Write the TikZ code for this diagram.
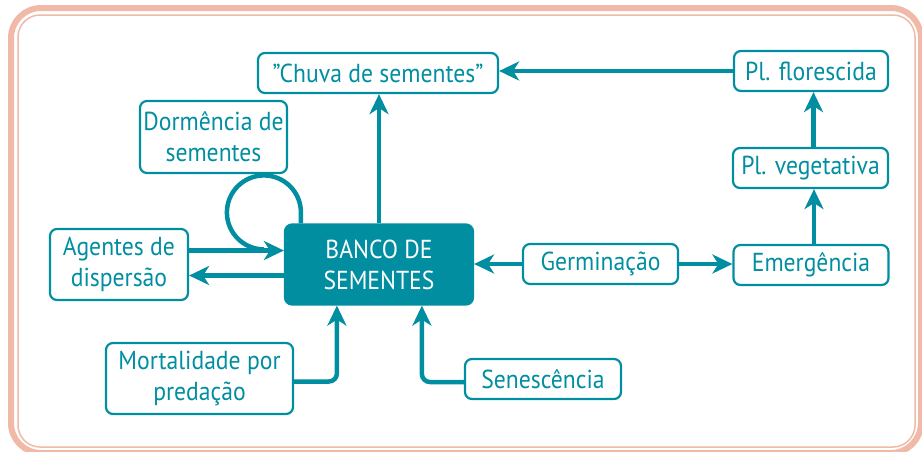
\documentclass[tikz,border=0pt]{standalone}
\usepackage{fontspec}
\setmainfont{PT Sans}[FakeStretch=0.91]
\usetikzlibrary{arrows.meta,calc}
\definecolor{tealc}{RGB}{0,142,160}
\definecolor{pinkf}{RGB}{240,185,168}
\begin{document}
\begin{tikzpicture}[x=1pt,y=-1pt,
  box/.style={draw=tealc, line width=2.2pt, rounded corners=7pt, text=tealc,
    font=\fontsize{26}{31}\selectfont, align=center, inner sep=0pt},
  bigbox/.style={box, fill=tealc, text=white},
  arr/.style={draw=tealc, line width=4.5pt, -{Stealth[length=20pt,width=19pt,inset=6pt]}},
  plain/.style={draw=tealc, line width=4.5pt},
  frameout/.style={draw=pinkf, line width=6pt, rounded corners=30pt},
  framein/.style={draw=pinkf, line width=1.5pt, rounded corners=22pt}]
\useasboundingbox (0,0) rectangle (922,451);
\draw[frameout] (11,8) rectangle (921,453);
\draw[framein] (18,15) rectangle (915,447);

\node[box, minimum width=240pt, minimum height=40pt] (chuva) at (378,73) {”Chuva de sementes”};
\node[box, minimum width=147pt, minimum height=72pt] (dorm) at (213.5,137) {Dormência de\\sementes};
\node[box, minimum width=138pt, minimum height=71pt] (agentes) at (119,264.5) {Agentes de\\dispersão};
\node[bigbox, minimum width=188pt, minimum height=80pt] (banco) at (379,264.5) {BANCO DE\\SEMENTES};
\node[box, minimum width=187pt, minimum height=71pt] (mort) at (199.5,378.5) {Mortalidade por\\predação};
\node[box, minimum width=156pt, minimum height=40pt] (sen) at (543,379) {Senescência};
\node[box, minimum width=155pt, minimum height=40pt] (germ) at (600.5,264) {Germinação};
\node[box, minimum width=155pt, minimum height=40pt] (emerg) at (811,265) {Emergência};
\node[box, minimum width=155pt, minimum height=40pt] (veg) at (810.5,168) {Pl. vegetativa};
\node[box, minimum width=154pt, minimum height=40pt] (flor) at (811,71) {Pl. florescida};

\coordinate (loopstart) at ([xshift=17pt]banco.north west);
\draw[plain] (loopstart) -- ++(0,-11) arc[start angle=0, end angle=-270, radius=37];
\draw[arr] ([yshift=14pt]agentes.east) -- ([yshift=14pt]agentes.east -| banco.west);
\draw[arr] ([yshift=-11pt]banco.west) -- ([yshift=-11pt]banco.west -| agentes.east);
\draw[arr] (banco.north) -- (banco.north |- chuva.south);
\draw[arr] (flor.west) -- (flor.west -| chuva.east);
\draw[arr] ([xshift=3pt]emerg.north) -- ([xshift=3pt]emerg.north |- veg.south);
\draw[arr] ([xshift=3pt]veg.north) -- ([xshift=3pt]veg.north |- flor.south);
\draw[arr] (germ.west) -- (germ.west -| banco.east);
\draw[arr] (germ.east) -- (germ.east -| emerg.west);
\draw[arr, rounded corners=8pt] ([yshift=-3pt]mort.east) -| ([xshift=53pt]banco.south west);
\draw[arr, rounded corners=8pt] ([yshift=-3pt]sen.west) -| ([xshift=138pt]banco.south west);
\end{tikzpicture}
\end{document}
